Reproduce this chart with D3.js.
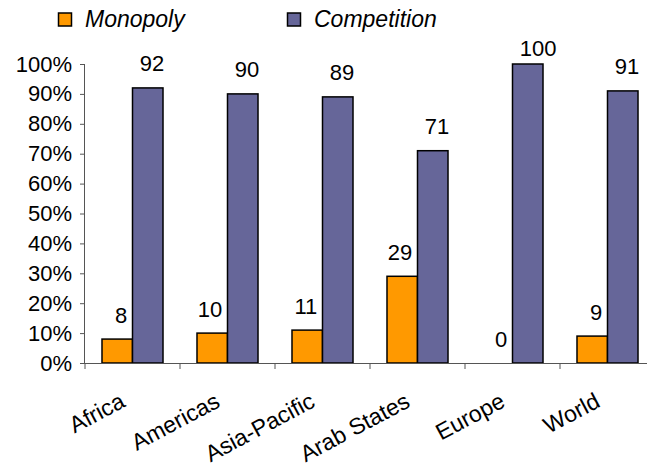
<!DOCTYPE html>
<html>
<head>
<meta charset="utf-8">
<script src="https://cdn.jsdelivr.net/npm/d3@7"></script>
<style>
  html, body { margin: 0; padding: 0; background: #fff; }
  svg { display: block; font-family: "Liberation Sans", Arial, sans-serif; }
</style>
</head>
<body>
<svg id="chart" width="647" height="467"></svg>
<script>
// Market structure by region (% of countries)
const regions = ["Africa", "Americas", "Asia-Pacific", "Arab States", "Europe", "World"];
const seriesNames = ["Monopoly", "Competition"];
const monopoly = [8, 10, 11, 29, 0, 9];
const competition = [92, 90, 89, 71, 100, 91];
const yTicks = [0, 10, 20, 30, 40, 50, 60, 70, 80, 90, 100];
const colors = ["#FF9900", "#666699"];

const svg = d3.select("#chart");
const plotLeft = 85, plotRight = 655, plotTop = 64, plotBottom = 363;

const x = d3.scaleBand().domain(regions).range([plotLeft, plotRight]).paddingInner(0).paddingOuter(0);
const xs = d3.scaleBand().domain(seriesNames).range([0, x.bandwidth()]).paddingInner(0).paddingOuter(0.557);
const y = d3.scaleLinear().domain([0, 100]).range([plotBottom, plotTop]);

const rows = regions.map((r, i) => ({ region: r, values: [monopoly[i], competition[i]] }));

// Bars
const groups = svg.append("g").selectAll("g").data(rows).join("g")
  .attr("transform", d => `translate(${x(d.region)},0)`);

groups.selectAll("rect")
  .data(d => d.values.map((v, k) => ({ key: seriesNames[k], k, v })).filter(e => e.v > 0))
  .join("rect")
  .attr("x", e => xs(e.key))
  .attr("y", e => y(e.v))
  .attr("width", xs.bandwidth())
  .attr("height", e => y(0) - y(e.v))
  .attr("fill", e => colors[e.k])
  .attr("stroke", "#000")
  .attr("stroke-width", 1.5);

// Value labels
groups.selectAll("text.val")
  .data(d => d.values.map((v, k) => ({ key: seriesNames[k], k, v })))
  .join("text")
  .attr("class", "val")
  .attr("x", e => xs(e.key) + xs.bandwidth() / 2 + (e.k === 0 ? 10 : -8))
  .attr("y", e => Math.max(y(e.v) - 16.5, 56))
  .attr("text-anchor", e => e.k === 0 ? "end" : "start")
  .attr("font-size", 22)
  .attr("fill", "#000")
  .text(e => e.v);

// Y axis
const yAxis = svg.append("g")
  .attr("transform", `translate(${plotLeft},0)`)
  .call(d3.axisLeft(y).tickValues(yTicks).tickFormat(d => d + "%").tickSize(5).tickPadding(8));
yAxis.select(".domain").attr("stroke", "#555").attr("d", `M-0.5,${plotTop}V${plotBottom}`);
yAxis.selectAll(".tick line").attr("stroke", "#555");
yAxis.selectAll(".tick text").attr("font-size", 22).attr("fill", "#000")
  .attr("font-family", "'Liberation Sans', Arial, sans-serif");

// X axis
const xAxis = svg.append("g")
  .attr("transform", `translate(0,${plotBottom})`)
  .call(d3.axisBottom(x).tickSize(0).tickFormat(""));
xAxis.select(".domain").attr("stroke", "#555").attr("d", `M${plotLeft},0.5H${plotRight}`);
xAxis.selectAll(".tick").remove();
xAxis.selectAll("line.sep").data(regions).join("line")
  .attr("class", "sep")
  .attr("x1", d => x(d)).attr("x2", d => x(d))
  .attr("y1", 0).attr("y2", 6)
  .attr("stroke", "#555");

// Category labels, rotated
svg.append("g").selectAll("text").data(regions).join("text")
  .attr("transform", d => `translate(${x(d) + x.bandwidth() / 2 - 6},406) rotate(-28)`)
  .attr("text-anchor", "end")
  .attr("font-size", 23)
  .attr("fill", "#000")
  .text(d => d);

// Legend
const legendX = [58, 287];
const legend = svg.append("g").selectAll("g").data(seriesNames).join("g")
  .attr("transform", (d, i) => `translate(${legendX[i]},0)`);
legend.append("rect")
  .attr("x", 0.5).attr("y", 13)
  .attr("width", 13).attr("height", 13)
  .attr("fill", (d, i) => colors[i])
  .attr("stroke", "#000").attr("stroke-width", 1.5);
legend.append("text")
  .attr("x", 27).attr("y", 27)
  .attr("font-size", 23)
  .attr("font-style", "italic")
  .attr("fill", "#000")
  .text(d => d);
</script>
</body>
</html>
